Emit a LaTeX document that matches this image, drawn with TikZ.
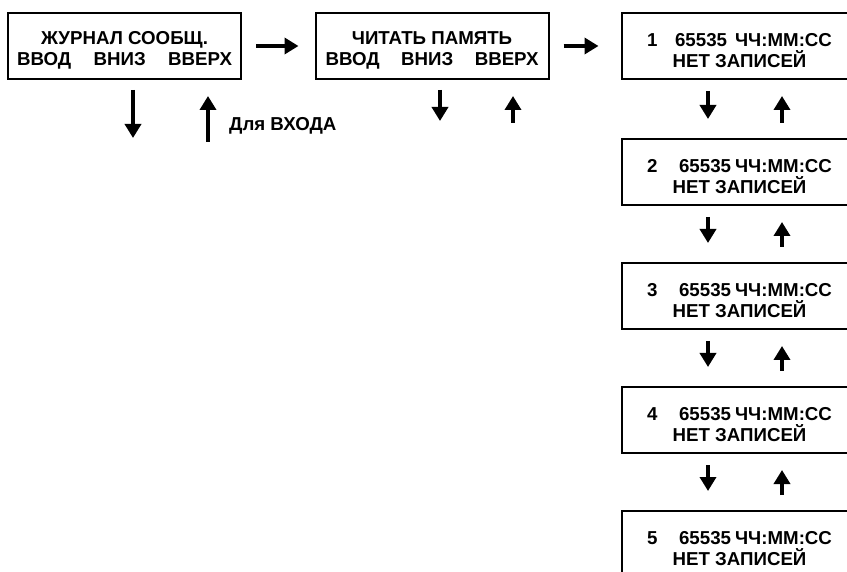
\documentclass[tikz,border=0pt]{standalone}
\usepackage{fontspec}
\setmainfont{Liberation Sans}
\usetikzlibrary{arrows.meta}
\begin{document}
\begin{tikzpicture}[x=1pt,y=-1pt,
  box/.style={draw, line width=2pt, minimum width=233pt, minimum height=66pt, inner sep=0pt},
  txt/.style={align=center, inner sep=0pt, font=\fontsize{18.7}{21.5}\selectfont\bfseries},
  arr/.style={line width=4.5pt, -{Triangle[length=14pt,width=16pt]}},
  lbl/.style={font=\fontsize{18.7}{21}\selectfont\bfseries, inner sep=0pt},
]
\useasboundingbox (0,0) rectangle (847,572);
\clip (0,0) rectangle (847,572);
\node[box] (b1) at (124.5,46) {};
\node[box] (b2) at (432,46) {};
\node[box] (r1) at (738,46) {};
\node[box] (r2) at (738,172) {};
\node[box] (r3) at (738,296) {};
\node[box] (r4) at (738,420) {};
\node[box] (r5) at (738,544) {};
\node[txt] (b1t) at ([yshift=-4.5pt]b1.center) {ЖУРНАЛ СООБЩ.\\\makebox[215pt]{ВВОД\hfill ВНИЗ\hfill ВВЕРХ}};
\node[txt] (b2t) at ([yshift=-4.5pt]b2.center) {ЧИТАТЬ ПАМЯТЬ\\\makebox[213pt]{ВВОД\hfill ВНИЗ\hfill ВВЕРХ}};
\node[txt] (r1t) at ([yshift=-4.5pt,xshift=1.5pt]r1.center) {\makebox[185pt]{1\hfill 65535\hspace{8pt}ЧЧ:ММ:СС}\\НЕТ ЗАПИСЕЙ};
\foreach \n in {2,3,4,5}{
  \node[txt] (r\n t) at ([yshift=-4.5pt,xshift=1.5pt]r\n.center) {\makebox[185pt]{\n\hfill 65535\hspace{4pt}ЧЧ:ММ:СС}\\НЕТ ЗАПИСЕЙ};
}
% horizontal arrows
\draw[arr, shorten <=14pt, shorten >=16pt] (b1.east) -- (b2.west);
\draw[arr, shorten <=14pt, shorten >=22pt] (b2.east) -- (r1.west);
% box 1 arrows
\coordinate (b1d) at (133,138);
\coordinate (b1u) at (208,142);
\draw[arr, shorten <=10pt] (b1.south -| b1d) -- (b1d);
\draw[arr, shorten >=16pt] (b1u) -- (b1.south -| b1u);
\node[lbl, anchor=west] (enter) at (229,126) {Для ВХОДА};
% box 2 arrows
\coordinate (b2d) at (440,121);
\coordinate (b2u) at (513,123);
\draw[arr, shorten <=10pt] (b2.south -| b2d) -- (b2d);
\draw[arr, shorten >=16pt] (b2u) -- (b2.south -| b2u);
% right column arrows
\foreach \a/\b in {r1/r2, r2/r3, r3/r4, r4/r5}{
  \draw[arr, shorten <=11pt, shorten >=19pt] ([xshift=-30pt]\a.south) -- ([xshift=-30pt]\b.north);
  \draw[arr, shorten <=15pt, shorten >=16pt] ([xshift=44pt]\b.north) -- ([xshift=44pt]\a.south);
}
\end{tikzpicture}
\end{document}
